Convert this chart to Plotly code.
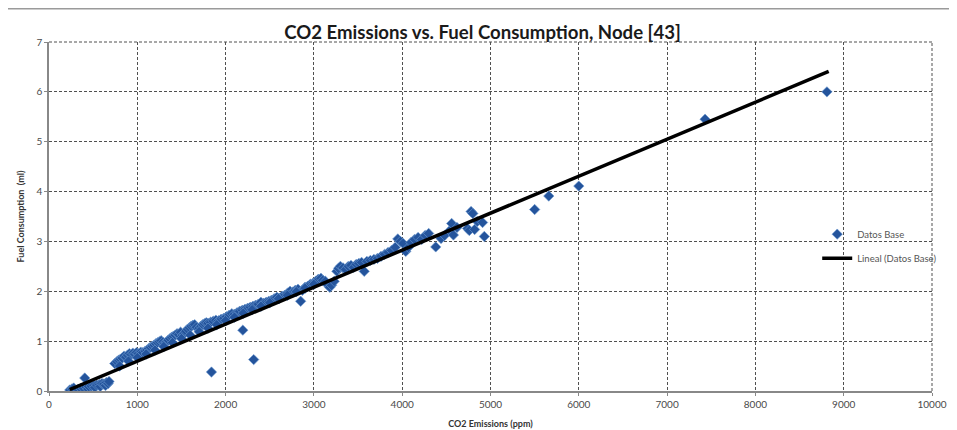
import plotly.graph_objects as go

# CO2 emissions (ppm) and fuel consumption (ml)
co2_ppm = [
    235, 260, 280, 300, 330, 360, 390, 405, 420, 440, 450, 480, 510, 520, 540, 570, 580,
    600, 620, 640, 650, 670, 680,
    745, 770, 790, 810, 830, 850, 870, 890, 910, 930, 950, 970, 990, 1010, 1040, 1060,
    1090, 1110, 1130, 1150, 1170, 1190, 1210, 1230, 1250, 1270, 1290, 1310, 1330, 1350,
    1370, 1390, 1410, 1430, 1450, 1470, 1490, 1510, 1530, 1550, 1570, 1590, 1610, 1630,
    1650, 1670, 1700, 1720, 1740, 1760, 1780, 1800, 1830, 1860, 1890, 1920, 1950, 1980,
    2010, 2040, 2070, 2100, 2130, 2160, 2190, 2220, 2250, 2280, 2310, 2340, 2370, 2400,
    2430, 2460, 2490, 2520, 2550, 2580, 2610, 2640, 2670, 2700, 2730, 2760, 2790, 2820,
    2870, 2900, 2930, 2960, 2990, 3020, 3050, 3080, 3100, 3130, 3160, 3180, 3200, 3230,
    3260, 3280, 3300, 3330, 3360, 3390, 3420, 3450, 3480, 3510, 3540, 3570, 3600, 3640,
    3680, 3720, 3760, 3800, 3840, 3880, 3920, 3950, 3980, 4010, 4040, 4070, 4100, 4140,
    4180, 4220, 4260, 4300, 4380, 4440, 4480, 4540, 4560, 4580, 4620, 4740, 4760, 4780,
    4800, 4820, 4850, 4910, 4930,
    800, 900, 1000, 1100, 1200, 1300, 1400, 1500, 1600, 1700, 1800, 1900, 2000, 2100,
    2200, 2300, 2400, 2500, 2600, 2700, 2800, 2900, 3000,
    1840, 2195, 2318, 2850,
    5500, 5660, 6000, 7430, 8810,
]
fuel_ml = [
    0.02, 0.04, 0.06, 0.01, 0.03, 0.05, 0.06, 0.26, 0.08, 0.04, 0.09, 0.10, 0.11, 0.07, 0.12, 0.13, 0.09,
    0.15, 0.14, 0.11, 0.17, 0.15, 0.19,
    0.55, 0.59, 0.62, 0.64, 0.66, 0.70, 0.68, 0.72, 0.75, 0.73, 0.76, 0.74, 0.77, 0.75, 0.78, 0.77,
    0.80, 0.82, 0.85, 0.88, 0.90, 0.92, 0.95, 0.97, 0.99, 1.01, 0.98, 0.96, 0.98, 1.02,
    1.05, 1.08, 1.10, 1.12, 1.15, 1.13, 1.18, 1.12, 1.15, 1.20, 1.24, 1.27, 1.30, 1.32,
    1.33, 1.28, 1.26, 1.30, 1.33, 1.35, 1.37, 1.36, 1.38, 1.40, 1.42, 1.41, 1.44, 1.46,
    1.49, 1.52, 1.55, 1.54, 1.57, 1.60, 1.62, 1.64, 1.66, 1.68, 1.70, 1.72, 1.74, 1.78,
    1.76, 1.78, 1.80, 1.82, 1.85, 1.88, 1.86, 1.90, 1.92, 1.96, 2.00, 1.98, 2.02, 2.04,
    2.02, 2.08, 2.10, 2.14, 2.16, 2.20, 2.24, 2.26, 2.22, 2.20, 2.12, 2.08, 2.12, 2.20,
    2.40, 2.46, 2.50, 2.47, 2.44, 2.50, 2.52, 2.48, 2.54, 2.56, 2.58, 2.40, 2.60, 2.62,
    2.64, 2.66, 2.70, 2.74, 2.78, 2.82, 2.88, 3.05, 3.00, 2.96, 2.80, 2.88, 2.98, 3.04,
    3.08, 3.04, 3.12, 3.16, 2.89, 3.06, 3.12, 3.22, 3.36, 3.13, 3.28, 3.26, 3.22, 3.60,
    3.56, 3.24, 3.40, 3.38, 3.10,
    0.50, 0.60, 0.67, 0.74, 0.82, 0.89, 0.97, 1.05, 1.12, 1.19, 1.26, 1.33, 1.41, 1.48,
    1.56, 1.63, 1.70, 1.77, 1.85, 1.92, 1.99, 2.06, 2.14,
    0.38, 1.22, 0.63, 1.80,
    3.64, 3.91, 4.11, 5.45, 6.00,
]

# Linear trendline endpoints
trend_x = [235, 8830]
trend_y = [0.03, 6.41]

x_ticks = [0, 1000, 2000, 3000, 4000, 5000, 6000, 7000, 8000, 9000, 10000]
y_ticks = [0, 1, 2, 3, 4, 5, 6, 7]

fig = go.Figure()
fig.add_trace(go.Scatter(
    x=co2_ppm, y=fuel_ml, mode="markers", name="Datos Base", legendgroup="a",
    marker=dict(symbol="diamond", size=8, color="#24549C",
                line=dict(width=0.6, color="#6D9AD2")),
))
fig.add_trace(go.Scatter(
    x=trend_x, y=trend_y, mode="lines", name="Lineal (Datos Base)", legendgroup="b",
    line=dict(color="black", width=3.5),
))

axis_font = dict(family="Lato, Open Sans, sans-serif", size=10, color="#4a4a4a")
grid_dash = "3px,2px"

fig.update_layout(
    width=949, height=422,
    margin=dict(l=41, r=25, t=34, b=39, autoexpand=False),
    paper_bgcolor="white", plot_bgcolor="white",
    title=dict(text="<b>CO2 Emissions vs. Fuel Consumption, Node [43]</b>",
               x=0.5, xanchor="center", y=0.943, yanchor="middle",
               font=dict(family="Lato, Open Sans, sans-serif", size=18.6, color="#1a1a1a")),
    showlegend=True,
    legend=dict(x=0.870, y=0.415, xanchor="left", yanchor="middle",
                traceorder="grouped", tracegroupgap=5,
                bgcolor="rgba(0,0,0,0)",
                font=dict(family="Lato, sans-serif", size=9.5, color="#555555"),
                itemwidth=30),
    xaxis=dict(range=[0, 10000], tickvals=x_ticks, ticktext=[str(v) for v in x_ticks],
               showgrid=True, gridcolor="#505050", griddash=grid_dash, gridwidth=1,
               showline=True, linecolor="#888888", linewidth=1.5, mirror=False,
               ticks="outside", ticklen=3, tickcolor="#888888",
               tickfont=axis_font, zeroline=False, automargin=False,
               title=dict(text="<b>CO2 Emissions (ppm)</b>", standoff=12,
                          font=dict(family="Lato, sans-serif", size=9, color="#333333"))),
    yaxis=dict(range=[0, 7], tickvals=y_ticks, ticktext=[str(v) for v in y_ticks],
               showgrid=True, gridcolor="#505050", griddash=grid_dash, gridwidth=1,
               showline=True, linecolor="#888888", linewidth=1.5,
               ticks="outside", ticklen=3, tickcolor="#888888",
               tickfont=axis_font, zeroline=False, automargin=False,
               title=dict(text="<b>Fuel Consumption  (ml)</b>", standoff=10,
                          font=dict(family="Lato, sans-serif", size=9, color="#333333"))),
    shapes=[
        dict(type="rect", xref="paper", yref="paper",
             x0=-0.0498, x1=1.026, y0=-0.12, y1=1.095,
             line=dict(color="#9a9a9a", width=1.5), fillcolor="rgba(0,0,0,0)", layer="below"),
        dict(type="line", xref="paper", yref="paper", x0=1, x1=1, y0=0, y1=1,
             line=dict(color="#505050", width=1, dash=grid_dash)),
        dict(type="line", xref="paper", yref="paper", x0=0, x1=1, y0=1, y1=1,
             line=dict(color="#505050", width=1, dash=grid_dash)),
    ],
)

fig.write_html("out.html")
